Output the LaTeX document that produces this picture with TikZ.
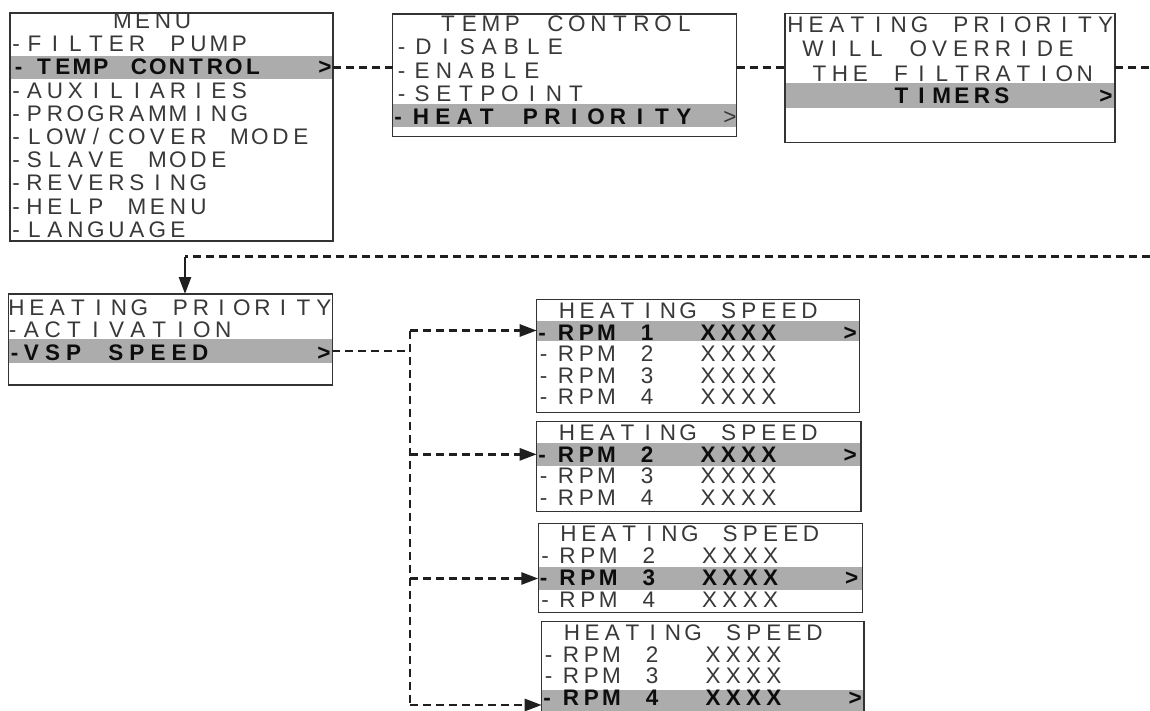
\documentclass[tikz,border=0pt]{standalone}
\usepackage{fontspec}
\setmainfont{Liberation Sans}
\usetikzlibrary{arrows.meta}
\definecolor{barc}{RGB}{172,172,172}
\newlength\lcdw
\makeatletter
\def\lcd#1#2{\lcdw=#1pt\relax\lcd@a#2\relax}
\def\lcd@a#1{\ifx#1\relax\else\hbox to\lcdw{\hss\ifx#1*\else#1\fi\hss}\expandafter\lcd@a\fi}
\makeatother
\newcommand\lcdrow[6]{\node[txt,#6,anchor=base west] (#1) at ({#2-#4/2},#3) {\lcd{#4}{#5}};}
\newcommand\drow[7]{\lcdrow{#1d}{#2}{#4}{#5}{-}{#7}\lcdrow{#1}{#3}{#4}{#5}{#6}{#7}}
\newcommand\bx[5]{\node[box,anchor=north west,minimum width=#4pt,minimum height=#5pt] (#1) at (#2,#3) {};}
\newcommand\br[5]{\node[bar,anchor=north west,minimum width=#4pt,minimum height=#5pt] (#1) at (#2,#3) {};}
\tikzset{
  box/.style={draw=black!80, line width=1.4pt, inner sep=0pt, outer sep=0pt},
  bar/.style={fill=barc, draw=none, inner sep=0pt, outer sep=0pt},
  txt/.style={inner sep=0pt, outer sep=0pt, font=\fontsize{22.5}{22.5}\selectfont, text=black!78},
  hl/.style={font=\fontsize{22.5}{22.5}\selectfont\bfseries, text=black!95},
  dsh/.style={draw=black!88, line width=2.7pt, dash pattern=on 8pt off 5pt},
  arr/.style={-{Triangle[length=17pt,width=12pt]}},
}
\begin{document}
\begin{tikzpicture}[x=1pt,y=-1pt]
\useasboundingbox (0,0) rectangle (1150,711);
\clip (0,0) rectangle (1150,711);
% highlight bars
\br{h1}{10}{56.5}{323}{22.5}
\br{h2}{392.7}{104}{344}{23}
\br{h3}{785}{83.3}{330}{25}
\br{h4}{8.3}{339.3}{324}{23.4}
\br{h5}{536.7}{320.5}{322.6}{20}
\br{h6}{536.7}{442.7}{324.3}{23.3}
\br{h7}{538.3}{567}{324}{23}
\br{h8}{541.7}{690}{322.3}{30}
% box 1
\lcdrow{t1}{122.5}{28.5}{20.2}{MENU}{}
\drow{r11}{16}{34.5}{51.7}{20.5}{FILTER*PUMP}{}
\drow{r12}{18.5}{44}{74.9}{19}{TEMP*CONTROL}{hl}
\lcdrow{g1}{325}{74.9}{19}{>}{hl}
\drow{r13}{16}{34.5}{98.1}{20.5}{AUXILIARIES}{}
\drow{r14}{16}{34.5}{121.3}{20.5}{PROGRAMMING}{}
\drow{r15}{16}{34.5}{144.5}{20.5}{LOW/COVER*MODE}{}
\drow{r16}{16}{34.5}{167.7}{20.5}{SLAVE*MODE}{}
\drow{r17}{16}{34.5}{190.9}{20.5}{REVERSING}{}
\drow{r18}{16}{34.5}{214.1}{20.5}{HELP*MENU}{}
\drow{r19}{16}{34.5}{237.3}{20.5}{LANGUAGE}{}
% box 2
\lcdrow{t2}{448}{31.7}{21.5}{TEMP*CONTROL}{}
\drow{r21}{401.5}{423.5}{55}{22}{DISABLE}{}
\drow{r22}{401.5}{422}{78.3}{22}{ENABLE}{}
\drow{r23}{401.5}{422}{101.6}{22}{SETPOINT}{}
\drow{r24}{398}{421}{124.9}{21.9}{HEAT*PRIORITY}{hl}
\lcdrow{g2}{730}{124.9}{20}{>}{}
% box 3
\lcdrow{t3a}{795.5}{32.7}{20.67}{HEATING*PRIORITY}{}
\lcdrow{t3b}{813}{56.7}{21.1}{WILL*OVERRIDE}{}
\lcdrow{t3c}{819.5}{81.7}{20.4}{THE*FILTRATION}{}
\lcdrow{r31}{901.5}{104}{20.1}{TIMERS}{hl}
\lcdrow{g3}{1106}{104}{20}{>}{hl}
% box 4
\lcdrow{t4}{16.5}{315}{20.5}{HEATING*PRIORITY}{}
\drow{r41}{12.5}{31.5}{337.5}{21.3}{ACTIVATION}{}
\drow{r42}{14.5}{31.5}{360}{21.1}{VSP*SPEED}{hl}
\lcdrow{g4}{324}{360}{20}{>}{hl}
% box 5
\lcdrow{t5}{567}{318}{20.2}{HEATING*SPEED}{}
\drow{r51}{542}{566}{340}{20.3}{RPM*1**XXXX***>}{hl}
\drow{r52}{543.5}{566}{361.5}{20.3}{RPM*2**XXXX}{}
\drow{r53}{543.5}{566}{383}{20.3}{RPM*3**XXXX}{}
\drow{r54}{543.5}{566}{404.5}{20.3}{RPM*4**XXXX}{}
% box 6
\lcdrow{t6}{567}{440.2}{20.2}{HEATING*SPEED}{}
\drow{r61}{542}{566}{462}{20.3}{RPM*2**XXXX***>}{hl}
\drow{r62}{543.5}{566}{483.8}{20.3}{RPM*3**XXXX}{}
\drow{r63}{543.5}{566}{505.6}{20.3}{RPM*4**XXXX}{}
% box 7
\lcdrow{t7}{568.6}{541.8}{20.2}{HEATING*SPEED}{}
\drow{r71}{545.1}{567.6}{563.6}{20.3}{RPM*2**XXXX}{}
\drow{r72}{543.6}{567.6}{585.4}{20.3}{RPM*3**XXXX***>}{hl}
\drow{r73}{545.1}{567.6}{607.2}{20.3}{RPM*4**XXXX}{}
% box 8
\lcdrow{t8}{572}{640.2}{20.2}{HEATING*SPEED}{}
\drow{r81}{548.5}{571}{662}{20.3}{RPM*2**XXXX}{}
\drow{r82}{548.5}{571}{683.8}{20.3}{RPM*3**XXXX}{}
\drow{r83}{547}{571}{705.6}{20.3}{RPM*4**XXXX***>}{hl}
% boxes
\bx{b1}{10}{13}{323}{228}
\bx{b2}{392.7}{14}{344}{122.7}
\bx{b3}{785}{13.3}{330}{129.4}
\bx{b4}{8.3}{294}{324}{91}
\bx{b5}{536.7}{299.3}{322.6}{113.4}
\bx{b6}{536.7}{421.7}{324.3}{89.6}
\bx{b7}{538.3}{523.3}{324}{89.4}
\bx{b8}{541.7}{621.7}{322.3}{120}
% connectors
\coordinate (e1) at (1150,68);
\coordinate (e2) at (1150,256.7);
\coordinate (k1) at (185,256.7);
\coordinate (jt) at (410,330.5);
\coordinate (jb) at (410,705);
\draw[dsh] (h1.east) -- (h1.east -| b2.west);
\draw[dsh] (b2.east |- h1.east) -- (b3.west |- h1.east);
\draw[dsh] (b3.east |- h1.east) -- (e1 |- h1.east);
\draw[dsh] (e2) -- (k1);
\draw[draw=black!88, line width=2.7pt, arr] (k1) -- (k1 |- b4.north);
\draw[dsh] (h4.east) -- (h4.east -| jt);
\draw[dsh] (jt) -- (jb);
\draw[dsh, arr] (jt |- h5.west) -- (h5.west);
\draw[dsh, arr] (jt |- h6.west) -- (h6.west);
\draw[dsh, arr] (jt |- h7.west) -- (h7.west);
\draw[dsh, arr] (jt |- h8.west) -- (h8.west);
\end{tikzpicture}
\end{document}
